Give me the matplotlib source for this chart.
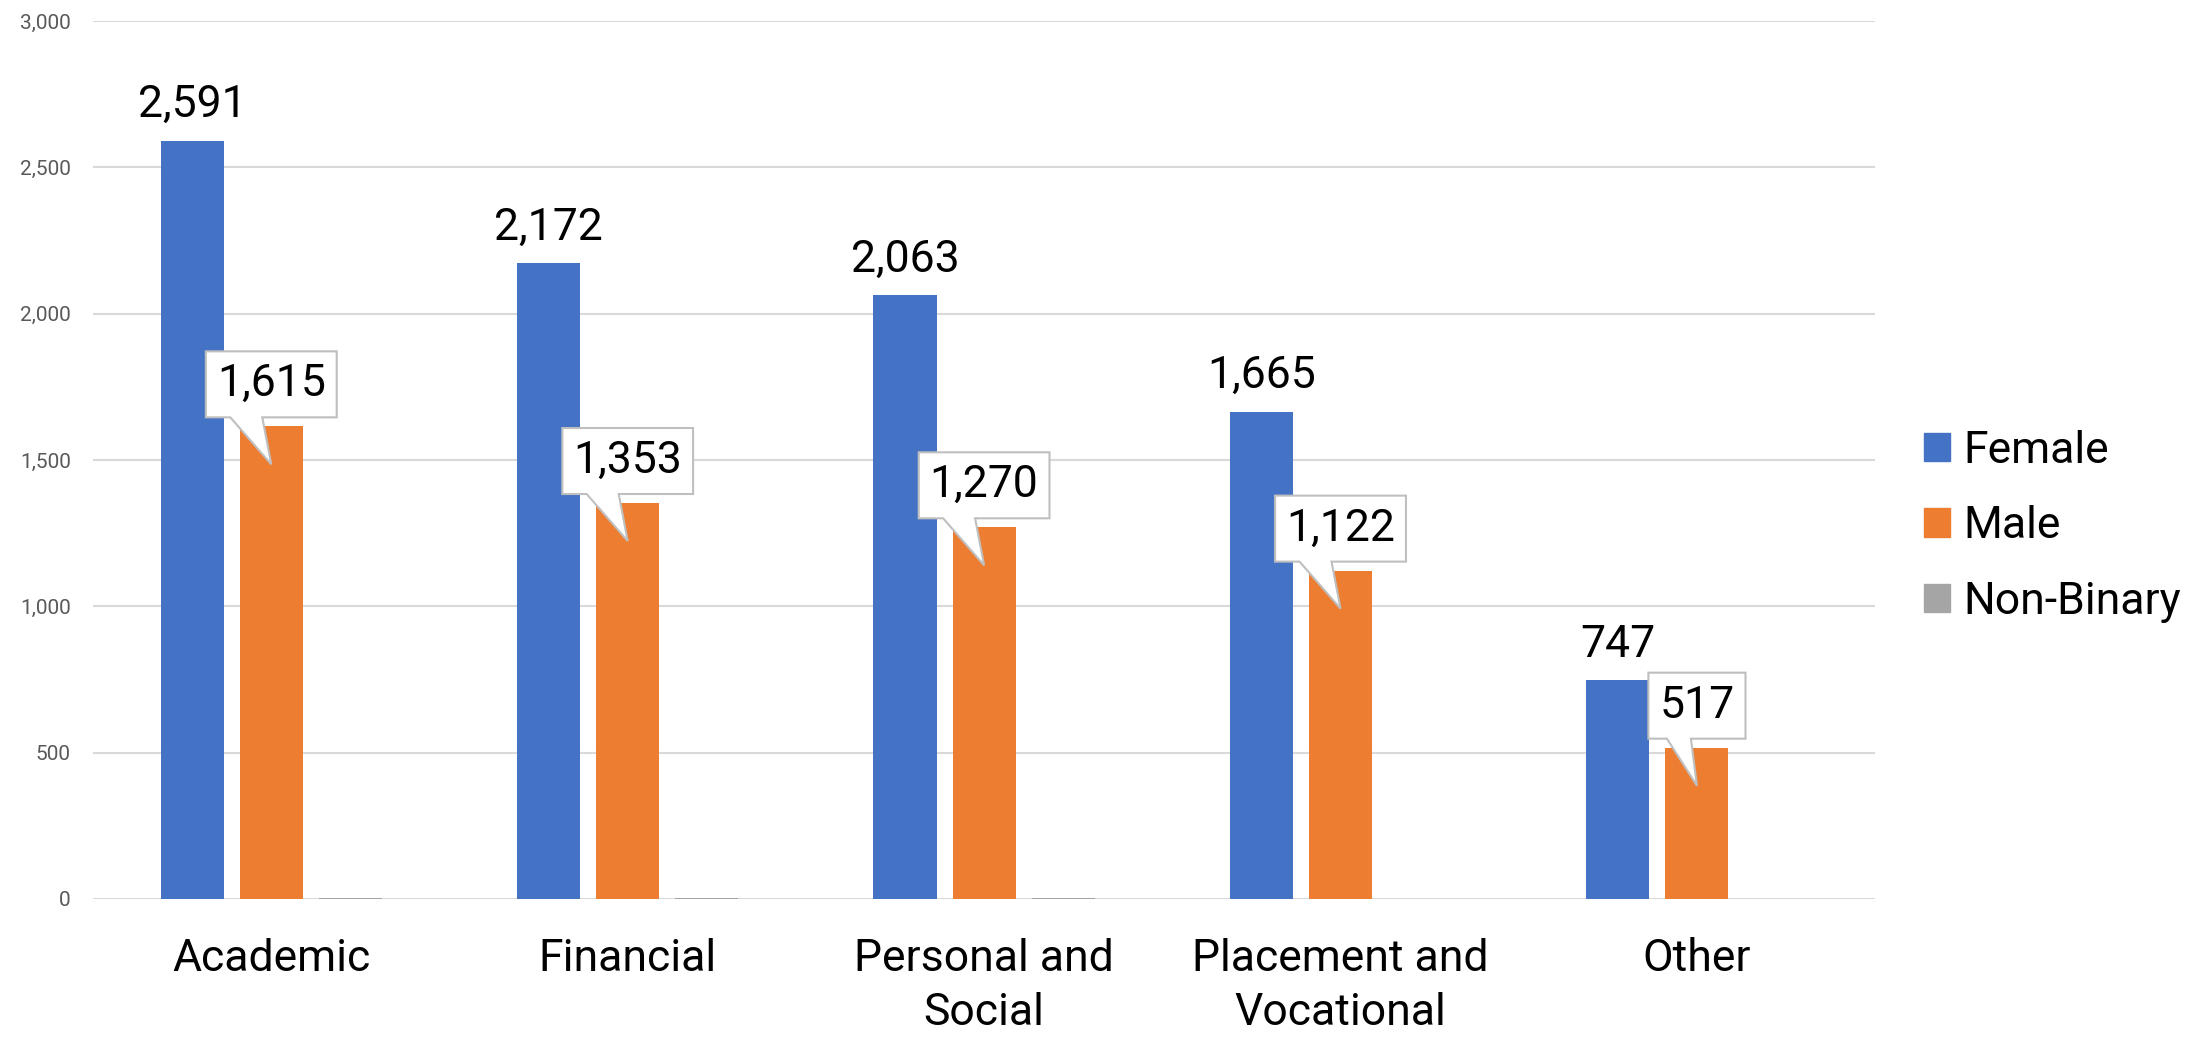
import numpy as np
import matplotlib
matplotlib.use("Agg")
import matplotlib.pyplot as plt
import matplotlib.transforms as mtransforms
from matplotlib.patches import Patch, Polygon
from matplotlib.ticker import FuncFormatter, MultipleLocator

plt.rcParams['font.family'] = ['Roboto', 'DejaVu Sans']

# data
categories = ['Academic', 'Financial', 'Personal and\nSocial', 'Placement and\nVocational', 'Other']
female = [2591, 2172, 2063, 1665, 747]
male = [1615, 1353, 1270, 1122, 517]
non_binary = [2, 2, 2, 1, 1]

c_female = '#4472C4'
c_male = '#ED7D31'
c_nb = '#A5A5A5'

fig = plt.figure(figsize=(22.11, 10.40), dpi=100)
ax = fig.add_axes([0.0421, 0.1356, 0.806, 0.8442])

x = np.arange(len(categories))
w = 0.177
off = 0.222
ax.bar(x - off, female, w, color=c_female, zorder=3)
ax.bar(x, male, w, color=c_male, zorder=3)
ax.bar(x + off, non_binary, w, color=c_nb, zorder=3)

ax.set_xlim(-0.5, len(categories) - 0.5)
ax.set_ylim(0, 3000)
ax.yaxis.set_major_locator(MultipleLocator(500))
ax.yaxis.set_major_formatter(FuncFormatter(lambda v, p: f'{int(v):,}'))
ax.grid(axis='y', color='#D9D9D9', linewidth=1.5, zorder=0)
for s in ax.spines.values():
    s.set_visible(False)
ax.tick_params(axis='y', length=0, pad=16, labelsize=15, labelcolor='#595959')
ax.tick_params(axis='x', length=0, pad=28, labelsize=32)
ax.set_xticks(x)
ax.set_xticklabels(categories, linespacing=1.38, va='top')

# female labels
for xi, v in zip(x, female):
    ax.annotate(f'{v:,}', (xi - off, v), xytext=(0, 17), textcoords='offset points',
                ha='center', va='baseline', fontsize=32, color='black', zorder=5)

# male callouts
fig.canvas.draw()
renderer = fig.canvas.get_renderer()
for xi, v in zip(x, male):
    trans = fig.dpi_scale_trans + mtransforms.ScaledTranslation(xi, v, ax.transData)
    t = ax.text(0, 0.42, f'{v:,}', fontsize=32, ha='center', va='center', zorder=6,
                transform=trans)
    tw = t.get_window_extent(renderer).width / 100.0
    hw = tw / 2 + 0.11
    b, top = 0.09, 0.75
    verts = [(-hw, b), (-0.41 if hw > 0.5 else -0.30, b), (0, -0.38),
             (-0.09 if hw > 0.5 else -0.06, b), (hw, b), (hw, top), (-hw, top)]
    poly = Polygon(verts, closed=True, facecolor='white', edgecolor='#BFBFBF',
                   linewidth=1.5, transform=trans, zorder=5, clip_on=False)
    ax.add_patch(poly)

handles = [Patch(color=c_female, label='Female'),
           Patch(color=c_male, label='Male'),
           Patch(color=c_nb, label='Non-Binary')]
fig.legend(handles=handles, loc='center left', bbox_to_anchor=(0.862, 0.494),
           frameon=False, fontsize=32, handlelength=0.6, handleheight=0.6,
           handletextpad=0.3, labelspacing=0.75, borderaxespad=0)

fig.savefig('out.png', dpi=100)
